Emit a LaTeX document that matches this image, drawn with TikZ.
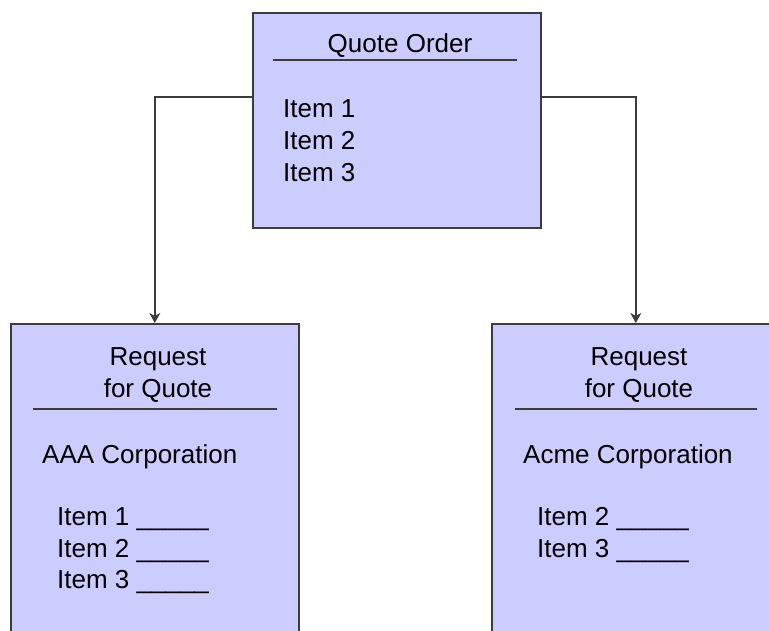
\documentclass[tikz,border=0pt]{standalone}
\usepackage{fontspec}
\setmainfont{Liberation Sans}
\usetikzlibrary{positioning,arrows.meta}
\definecolor{boxfill}{HTML}{CCCCFF}
\definecolor{boxline}{HTML}{3C3C3C}

\begin{document}
\begin{tikzpicture}[x=1pt,y=-1pt,
    form/.style={draw=boxline,line width=1.6pt,fill=boxfill,anchor=north west,
      minimum width=288pt,minimum height=#1,inner sep=0pt},
    txt/.style={inner sep=0pt,anchor=base west,font=\fontsize{26}{32}\selectfont},
    title/.style={txt,anchor=base},
    rule/.style={draw=boxline,line width=1.6pt},
    link/.style={draw=boxline,line width=1.6pt,-{Stealth[length=10pt,width=11pt,inset=3pt]}}]
                \useasboundingbox (0,0) rectangle (769,631);
                \clip (0,0) rectangle (769,631);
                % boxes
                \node[form=215pt] (order) at (252,12) {};
                \node[form=340pt] (aaa) at (10,323) {};
                \node[form=340pt] (acme) at (491,323) {};
                % quote order
                \node[title] (ordertitle) at (400,53) {Quote Order};
                \draw[rule] (273,60) -- (517,60);
                \node[txt] (oitem1) at (283,118) {Item 1};
                \node[txt] (oitem2) at (283,150) {Item 2};
                \node[txt] (oitem3) at (283,182) {Item 3};
                % request for quote, AAA
                \node[title] (aaatitle1) at (158,366) {Request};
                \node[title] (aaatitle2) at (158,397) {for Quote};
                \draw[rule] (33,409) -- (277,409);
                \node[txt] (aaaname) at (42,463) {AAA Corporation};
                \node[txt] (aitem1) at (57,525) {Item 1 \_\_\_\_\_};
                \node[txt] (aitem2) at (57,557) {Item 2 \_\_\_\_\_};
                \node[txt] (aitem3) at (57,588) {Item 3 \_\_\_\_\_};
                % request for quote, Acme
                \node[title] (acmetitle1) at (639,366) {Request};
                \node[title] (acmetitle2) at (639,397) {for Quote};
                \draw[rule] (515,409) -- (757,409);
                \node[txt] (acmename) at (523,463) {Acme Corporation};
                \node[txt] (citem2) at (537,525) {Item 2 \_\_\_\_\_};
                \node[txt] (citem3) at (537,557) {Item 3 \_\_\_\_\_};
                % connectors
                \coordinate (split) at (0,97);
                \draw[link] (order.west |- split) -| (aaa.north);
                \draw[link] (order.east |- split) -| (acme.north);
            \end{tikzpicture}
\end{document}
